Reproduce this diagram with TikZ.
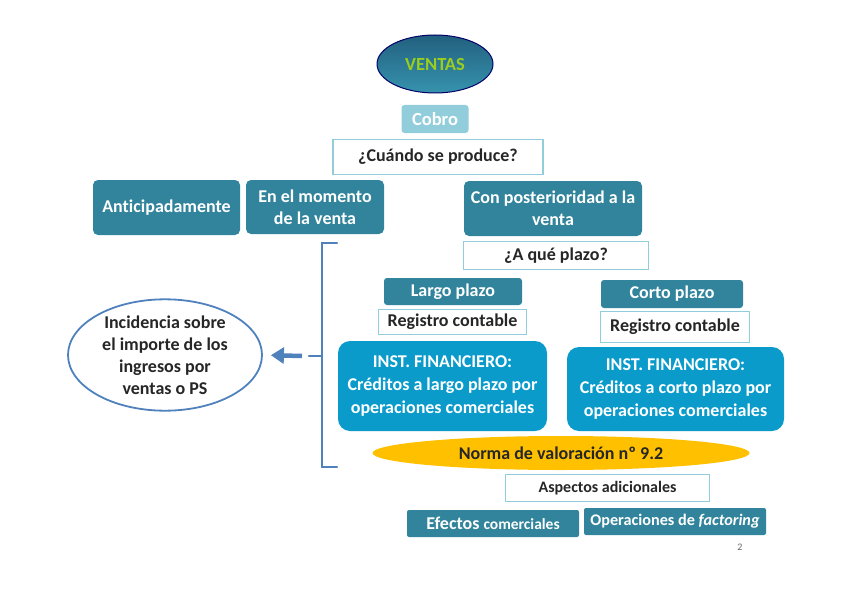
\documentclass[tikz,border=0pt]{standalone}
\usepackage{fontspec}
\setmainfont[Ligatures=NoCommon]{Carlito}
\usetikzlibrary{shapes.geometric,arrows.meta}
\definecolor{boxteal}{HTML}{31849B}
\definecolor{boxlight}{HTML}{92CDDC}
\definecolor{boxblue}{HTML}{0A9BCB}
\definecolor{linebl}{HTML}{4F81BD}
\definecolor{normagold}{HTML}{FFC000}
\definecolor{ventasgreen}{HTML}{9ACD1E}
\definecolor{ventastop}{HTML}{22607F}
\definecolor{ventasbot}{HTML}{3693AE}

\tikzset{
  tealbox/.style={fill=boxteal, rounded corners=5pt, text=white, align=center,
                  font=\bfseries\fontsize{18}{22}\selectfont, inner sep=2pt},
  whitebox/.style={draw=boxlight, line width=1.8pt, fill=white, text=black!85,
                   align=center, font=\bfseries\fontsize{18}{22}\selectfont, inner sep=2pt},
  instbox/.style={fill=boxblue, rounded corners=12pt, text=white, align=center,
                  font=\bfseries\fontsize{18}{23}\selectfont, inner sep=2pt},
  bracketline/.style={draw=linebl, line width=2.4pt, line cap=round},
}

\begin{document}
\begin{tikzpicture}[x=1pt,y=-1pt]
  \useasboundingbox (0,0) rectangle (848,599);
  %% top of the chart
  \node[ellipse, draw=blue!40!black, line width=1pt, top color=ventastop,
        bottom color=ventasbot, minimum width=116, minimum height=58,
        text=ventasgreen, font=\bfseries\fontsize{18.5}{20}\selectfont] (ventas) at (435,64) {VENTAS};
  \node[fill=boxlight, rounded corners=3pt, text=white, minimum width=67, minimum height=28,
        font=\bfseries\fontsize{18.5}{20}\selectfont] (cobro) at (435,119) {Cobro};
  \node[whitebox, minimum width=210, minimum height=35] (cuando) at (438,157) {¿Cuándo se produce?};
  %% when
  \node[tealbox, minimum width=147, minimum height=55] (antic) at (166.5,207.5) {Anticipadamente};
  \node[tealbox, minimum width=138, minimum height=54] (momento) at (315,207) {En el momento\\de la venta};
  \node[tealbox, minimum width=178, minimum height=55] (poster) at (553,208.5) {Con posterioridad a la\\venta};
  \node[whitebox, minimum width=185, minimum height=28] (plazo) at (556,255.5) {¿A qué plazo?};
  %% long and short term
  \node[tealbox, rounded corners=3pt, minimum width=138, minimum height=27] (largo) at (453,291.5) {Largo plazo};
  \node[tealbox, rounded corners=3pt, minimum width=142, minimum height=28] (corto) at (672,294) {Corto plazo};
  \node[whitebox, minimum width=148, minimum height=25] (regl) at (452.5,322) {Registro contable};
  \node[whitebox, minimum width=149, minimum height=31] (regc) at (675,327) {Registro contable};
  \node[instbox, minimum width=209, minimum height=90] (instl) at (442.5,386)
    {INST. FINANCIERO:\\Créditos a largo plazo por\\operaciones comerciales};
  \node[instbox, minimum width=217, minimum height=84] (instc) at (675.5,389)
    {INST. FINANCIERO:\\Créditos a corto plazo por\\operaciones comerciales};
  \node[ellipse, fill=normagold, minimum width=377, minimum height=34, inner sep=0pt, text=black!85,
        font=\bfseries\fontsize{18}{20}\selectfont] (norma) at (561,453) {Norma de valoración nº 9.2};
  %% additional aspects
  \node[whitebox, minimum width=204, minimum height=27, font=\bfseries\fontsize{16}{18}\selectfont]
    (aspectos) at (607.5,488) {Aspectos adicionales};
  \node[tealbox, rounded corners=2pt, minimum width=172, minimum height=27] (efectos) at (493,523.5)
    {Efectos {\fontsize{15.5}{18}\selectfont comerciales}};
  \node[tealbox, rounded corners=2pt, minimum width=182, minimum height=27,
        font=\bfseries\fontsize{16.2}{18}\selectfont] (factoring) at (675,521.5)
    {Operaciones de \textit{factoring}};
  \node[text=black!60, font=\fontsize{10}{12}\selectfont] (pagina) at (740,547) {2};
  %% left part
  \node[ellipse, draw=linebl, line width=1.8pt, fill=white, minimum width=194, minimum height=102,
        inner sep=0pt, align=center, text=black!85, font=\bfseries\fontsize{18}{22}\selectfont]
    (incid) at (165,355) {Incidencia sobre\\el importe de los\\ingresos por\\ventas o PS};
  \draw[bracketline] (337,243) -- (322,243) -- (322,467) -- (337,467);
  \draw[bracketline] (322,356) -- (309,356);
  \coordinate (flecha) at (302,356);
  \draw[draw=linebl, line width=4.5pt, shorten >=8pt,
        -{Triangle[length=13pt,width=16pt]}] (flecha) -- (incid.east);
\end{tikzpicture}
\end{document}
